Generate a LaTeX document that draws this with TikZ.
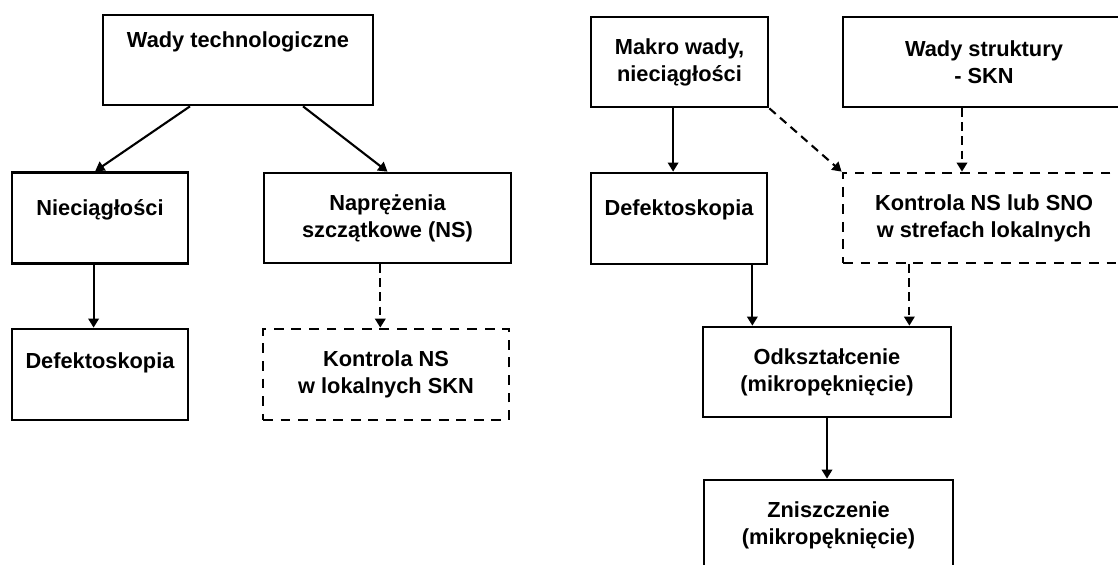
\documentclass[tikz,border=0pt]{standalone}
\usepackage{fontspec}
\setmainfont{Liberation Sans}
\usetikzlibrary{arrows.meta}

\begin{document}
\begin{tikzpicture}[x=0.025cm, y=-0.025cm,
    every node/.style={font=\bfseries\fontsize{15.5}{19.2}\selectfont, align=center},
    solidbox/.style={draw, line width=1.9pt, inner sep=0pt},
    dashbox/.style={solidbox, dash pattern=on 7pt off 5.5pt},
    link/.style={line width=1.5pt, -{Triangle[length=6.5pt,width=7.5pt]}},
    dashlink/.style={link, dash pattern=on 6pt off 4pt}]
        % Frame (picture is cut at the right and bottom)
        \useasboundingbox (0,0) rectangle (1118,565);
        \clip (0,0) rectangle (1118,565);

        % Left tree
        \node[solidbox, minimum width=6.75cm, minimum height=2.25cm] (wtech) at (238,60) {Wady technologiczne\\[10pt]\mbox{}};
        \node[solidbox, minimum width=4.4cm, minimum height=2.275cm] (niec) at (100,218) {Nieciągłości\\[-4pt]\mbox{}};
        \node[solidbox, minimum width=6.175cm, minimum height=2.25cm] (napr) at (387.5,218) {Naprężenia\\szczątkowe (NS)};
        \node[solidbox, minimum width=4.4cm, minimum height=2.275cm] (defL) at (100,374.5) {Defektoskopia\\\mbox{}};
        \node[dashbox, minimum width=6.15cm, minimum height=2.275cm] (kontL) at (386,374.5) {Kontrola NS\\w lokalnych SKN};

        \draw[link] ([xshift=-1.2cm]wtech.south) -- ([xshift=-0.12cm]niec.north);
        \draw[link] ([xshift=1.625cm]wtech.south) -- (napr.north);
        \draw[link] ([xshift=-0.16cm]niec.south) -- ([xshift=-0.16cm]defL.north);
        \draw[dashlink] ([xshift=-0.18cm]napr.south) -- ([xshift=-0.18cm]napr.south |- kontL.north);

        % Right tree
        \node[solidbox, minimum width=4.425cm, minimum height=2.25cm] (makro) at (679.5,62) {Makro wady,\\nieciągłości};
        \node[solidbox, minimum width=7.05cm, minimum height=2.25cm] (wstr) at (984,62) {Wady struktury\\- SKN};
        \node[solidbox, minimum width=4.4cm, minimum height=2.275cm] (defR) at (679,218.5) {Defektoskopia\\[-4pt]\mbox{}};
        \node[dashbox, minimum width=7.05cm, minimum height=2.25cm] (kontR) at (984,218) {Kontrola NS lub SNO\\w strefach lokalnych};
        \node[solidbox, minimum width=6.2cm, minimum height=2.25cm] (odk) at (827,372) {Odkształcenie\\(mikropęknięcie)};
        \node[solidbox, minimum width=6.225cm, minimum height=2.25cm] (znis) at (828.5,525) {Zniszczenie\\(mikropęknięcie)};

        \draw[link] ([xshift=-0.16cm]makro.south) -- ([xshift=-0.16cm]makro.south |- defR.north);
        \draw[dashlink] (makro.south east) -- (kontR.north west);
        \draw[dashlink] ([xshift=-0.55cm]wstr.south) -- ([xshift=-0.55cm]wstr.south |- kontR.north);
        \draw[link] ([xshift=-0.4cm]defR.south east) -- ([xshift=-0.4cm]defR.south east |- odk.north);
        \draw[dashlink] ([xshift=-1.075cm]odk.north east |- kontR.south) -- ([xshift=-1.075cm]odk.north east);
        \draw[link] (odk.south) -- (odk.south |- znis.north);
\end{tikzpicture}
\end{document}
